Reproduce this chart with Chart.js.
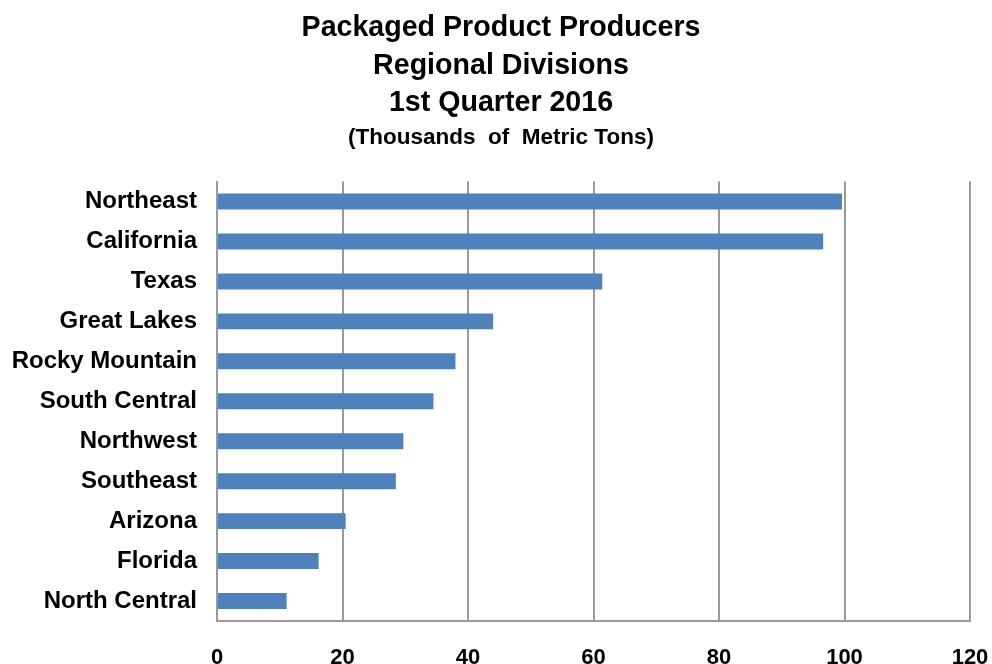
<!DOCTYPE html>
<html>
<head>
<meta charset="utf-8">
<script src="https://cdn.jsdelivr.net/npm/chart.js@4"></script>
<style>
  html, body { margin: 0; padding: 0; background: #ffffff; }
  #wrap { width: 992px; height: 664px; position: relative; }
</style>
</head>
<body>
<div id="wrap"><canvas id="c" width="992" height="664"></canvas></div>
<script>
const categories = ["Northeast", "California", "Texas", "Great Lakes", "Rocky Mountain", "South Central", "Northwest", "Southeast", "Arizona", "Florida", "North Central"];
const values = [99.6, 96.6, 61.4, 44.0, 38.0, 34.5, 29.7, 28.5, 20.5, 16.2, 11.1];
const titleLines = ["Packaged Product Producers", "Regional Divisions", "1st Quarter 2016"];
const subtitleText = "(Thousands  of  Metric Tons)";
const xMin = 0, xMax = 120, xStep = 20;

const FONT = "'Liberation Sans', Arial, sans-serif";
const GRID = "#9a9a9a";

new Chart(document.getElementById("c"), {
  type: "bar",
  data: {
    labels: categories,
    datasets: [{
      data: values,
      backgroundColor: "#4F81BD",
      borderWidth: 0,
      barPercentage: 0.4,
      categoryPercentage: 1.0
    }]
  },
  options: {
    indexAxis: "y",
    responsive: false,
    animation: false,
    devicePixelRatio: 1,
    layout: { padding: { left: 10, right: 0, top: 0, bottom: 0 } },
    plugins: {
      legend: { display: false },
      tooltip: { enabled: false },
      title: {
        display: true,
        text: titleLines,
        color: "#000",
        font: { family: FONT, size: 28.6, weight: "bold", lineHeight: 1.3 },
        padding: { top: 10, bottom: 0 }
      },
      subtitle: {
        display: true,
        text: subtitleText,
        color: "#000",
        font: { family: FONT, size: 22.5, weight: "bold", lineHeight: 1.2 },
        padding: { top: 3, bottom: 30 }
      }
    },
    scales: {
      x: {
        type: "linear",
        min: xMin, max: xMax,
        ticks: {
          stepSize: xStep,
          color: "#000",
          padding: 24,
          font: { family: FONT, size: 22, weight: "bold" }
        },
        grid: { color: GRID, lineWidth: 2, drawTicks: false },
        border: { display: true, color: GRID, width: 2 },
        afterFit: (s) => { s.height = 43; s.paddingRight = 22; s.paddingLeft = 0; }
      },
      y: {
        ticks: {
          color: "#000",
          padding: 20,
          font: { family: FONT, size: 24, weight: "bold" }
        },
        grid: { display: false, drawTicks: false },
        border: { display: true, color: GRID, width: 2 },
        afterFit: (s) => { s.width = 207; }
      }
    }
  }
});
</script>
</body>
</html>
